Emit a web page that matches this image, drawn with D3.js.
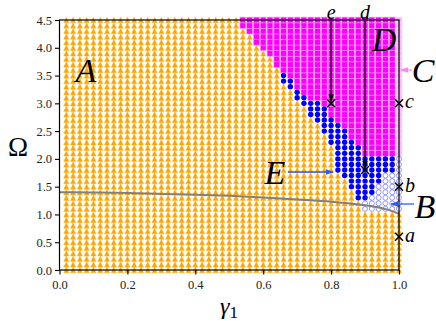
<!DOCTYPE html>
<html><head><meta charset="utf-8">
<script src="https://cdn.jsdelivr.net/npm/d3@7"></script>
<style>body{margin:0;background:#fff} svg{display:block}</style>
</head><body>
<svg id="c" width="436" height="321"></svg>
<script>
// ---- data ----
const gammaCols = [0.02,0.04,0.06,0.08,0.10,0.12,0.14,0.16,0.18,0.20,0.22,0.24,0.26,0.28,0.30,0.32,0.34,0.36,0.38,0.40,
  0.42,0.44,0.46,0.48,0.50,0.52,0.54,0.56,0.58,0.60,0.62,0.64,0.66,0.68,0.70,0.72,0.74,0.76,0.78,0.80,
  0.82,0.84,0.86,0.88,0.90,0.92,0.94,0.96,0.98,1.00];
const omegaRows = [0.0,0.1,0.2,0.3,0.4,0.5,0.6,0.7,0.8,0.9,1.0,1.1,1.2,1.3,1.4,1.5,1.6,1.7,1.8,1.9,
  2.0,2.1,2.2,2.3,2.4,2.5,2.6,2.7,2.8,2.9,3.0,3.1,3.2,3.3,3.4,3.5,3.6,3.7,3.8,3.9,4.0,4.1,4.2,4.3,4.4,4.5];
// highest Omega of region A (orange), B (open circles), E (blue dots) in each column; above: D (or C at gamma=1)
const orangeTop = [4.5,4.5,4.5,4.5,4.5,4.5,4.5,4.5,4.5,4.5,4.5,4.5,4.5,4.5,4.5,4.5,4.5,4.5,4.5,4.5,
  4.5,4.5,4.5,4.5,4.5,4.5,4.3,4.2,4.0,3.9,3.8,3.6,3.3,3.2,3.0,2.9,2.7,2.6,2.4,2.2,
  1.7,1.6,1.4,1.2,1.0,1.0,1.0,1.0,1.0,1.0];
const openTop = [4.5,4.5,4.5,4.5,4.5,4.5,4.5,4.5,4.5,4.5,4.5,4.5,4.5,4.5,4.5,4.5,4.5,4.5,4.5,4.5,
  4.5,4.5,4.5,4.5,4.5,4.5,4.3,4.2,4.0,3.9,3.8,3.6,3.3,3.2,3.0,2.9,2.7,2.6,2.4,2.2,
  1.7,1.6,1.4,1.2,1.2,1.3,1.5,1.7,1.7,2.0];
const blueTop = [4.5,4.5,4.5,4.5,4.5,4.5,4.5,4.5,4.5,4.5,4.5,4.5,4.5,4.5,4.5,4.5,4.5,4.5,4.5,4.5,
  4.5,4.5,4.5,4.5,4.5,4.5,4.3,4.2,4.0,3.9,3.8,3.6,3.5,3.4,3.2,3.1,3.0,3.0,2.9,2.7,
  2.6,2.5,2.3,2.2,2.0,2.0,2.0,2.0,2.0,2.0];
const regionCGamma = 1.0;
const lineGamma = [0,0.1,0.2,0.3,0.4,0.5,0.6,0.7,0.8,0.85,0.9,0.95,0.98,1.0];
const lineOmega = [1.40,1.395,1.385,1.37,1.355,1.335,1.305,1.27,1.23,1.20,1.165,1.11,1.06,1.01];
const xTicks = [0,0.2,0.4,0.6,0.8,1.0];
const yTicks = [0,0.5,1.0,1.5,2.0,2.5,3.0,3.5,4.0,4.5];
const crossGamma = [1.0,1.0,1.0,0.9,0.8];
const crossOmega = [0.6,1.5,3.0,1.8,3.0];
const crossNames = ["a","b","c","d","e"];

// ---- drawing ----
const svg = d3.select("#c");
const x = d3.scaleLinear().domain([0,1]).range([59.5,399]);
const y = d3.scaleLinear().domain([0,4.5]).range([270,20]);
const serif = "'Liberation Serif','DejaVu Serif',serif";

const defs = svg.append("defs");
function mk(id,color){
  defs.append("marker").attr("id",id).attr("viewBox","0 0 10 10").attr("refX",9).attr("refY",5)
    .attr("markerWidth",6).attr("markerHeight",6).attr("orient","auto-start-reverse")
    .append("path").attr("d","M0,1.5L10,5L0,8.5Z").attr("fill",color);
}
mk("ab","#000"); mk("abl","#2a5cff"); mk("apk","#ff80ff");

const pts = [];
gammaCols.forEach((g,i)=>{
  omegaRows.forEach(o=>{
    let r;
    if (o <= orangeTop[i]+1e-9) r="A";
    else if (o <= openTop[i]+1e-9) r="B";
    else if (o <= blueTop[i]+1e-9) r="E";
    else r = (Math.abs(g-regionCGamma)<1e-9) ? "C" : "D";
    pts.push({g,o,r});
  });
});

const gm = svg.append("g");
const s = 2.7;
gm.selectAll("path.tri").data(pts.filter(d=>d.r==="A")).join("path").attr("class","tri")
  .attr("d",`M0,${-s}L${s*0.95},${s}L${-s*0.95},${s}Z`)
  .attr("transform",d=>`translate(${x(d.g)},${y(d.o)})`)
  .attr("fill","#ffa500").attr("stroke","#ffb020").attr("stroke-width",0.5);
gm.selectAll("rect.sq").data(pts.filter(d=>d.r==="D"||d.r==="C")).join("rect").attr("class","sq")
  .attr("x",d=>x(d.g)-2.9).attr("y",d=>y(d.o)-2.9).attr("width",5.8).attr("height",5.8)
  .attr("fill",d=>d.r==="D"?"#ff00ff":"#ffb4ff")
  .attr("stroke",d=>d.r==="D"?"#ff9cff":"#ffd6ff").attr("stroke-width",0.6);
gm.selectAll("circle.e").data(pts.filter(d=>d.r==="E")).join("circle").attr("class","e")
  .attr("cx",d=>x(d.g)).attr("cy",d=>y(d.o)).attr("r",2.7).attr("fill","#0000ff");
gm.selectAll("circle.b").data(pts.filter(d=>d.r==="B")).join("circle").attr("class","b")
  .attr("cx",d=>x(d.g)).attr("cy",d=>y(d.o)).attr("r",2.5).attr("fill","none")
  .attr("stroke","#6a6aff").attr("stroke-width",0.7);

// grey line
const lineData = lineGamma.map((g,i)=>[g,lineOmega[i]]);
svg.append("path").datum(lineData)
  .attr("d",d3.line().x(d=>x(d[0])).y(d=>y(d[1])).curve(d3.curveMonotoneX))
  .attr("fill","none").attr("stroke","#808080").attr("stroke-width",2);

// frame
svg.append("rect").attr("x",x(0)).attr("y",y(4.5)).attr("width",x(1)-x(0)).attr("height",y(0)-y(4.5))
  .attr("fill","none").attr("stroke","#000").attr("stroke-width",1.2);

// axes
const xa = svg.append("g").attr("transform",`translate(0,${y(0)})`)
  .call(d3.axisBottom(x).tickValues(xTicks).tickFormat(d3.format(".1f")).tickSize(4.5).tickPadding(6));
const ya = svg.append("g").attr("transform",`translate(${x(0)},0)`)
  .call(d3.axisLeft(y).tickValues(yTicks).tickFormat(d3.format(".1f")).tickSize(4.5).tickPadding(3));
[xa,ya].forEach(a=>{
  a.select(".domain").remove();
  a.selectAll(".tick line").attr("stroke","#000").attr("stroke-width",1.1);
  a.selectAll("text").attr("font-family",serif).attr("font-size",12.5).attr("fill","#222");
});

// crosses
crossGamma.forEach((g,i)=>{
  const cx=x(g), cy=y(crossOmega[i]), k=4;
  svg.append("path").attr("d",`M${cx-k},${cy-k}L${cx+k},${cy+k}M${cx-k},${cy+k}L${cx+k},${cy-k}`)
    .attr("stroke","#000").attr("stroke-width",1.5);
});
// labels a,b,c on the right of their crosses
[0,1,2].forEach(i=>{
  svg.append("text").attr("x",x(crossGamma[i])+6).attr("y",y(crossOmega[i])+5)
    .attr("font-family",serif).attr("font-style","italic").attr("font-size",20).text(crossNames[i]);
});
// d and e labels at the top with arrows down to the crosses
[3,4].forEach(i=>{
  const cx=x(crossGamma[i]);
  svg.append("text").attr("x",cx).attr("y",19).attr("text-anchor","middle")
    .attr("font-family",serif).attr("font-style","italic").attr("font-size",20).text(crossNames[i]);
  svg.append("line").attr("x1",cx).attr("x2",cx).attr("y1",21).attr("y2",y(crossOmega[i])-2)
    .attr("stroke","#000").attr("stroke-width",1.3).attr("marker-end","url(#ab)");
});

// region letters
function big(t,px,py){
  svg.append("text").attr("x",px).attr("y",py).attr("text-anchor","middle")
    .attr("font-family",serif).attr("font-style","italic").attr("font-size",34).text(t);
}
big("A",86,82); big("D",384,51); big("E",275,184); big("C",423,82); big("B",425,218);
function arrow(x1,y1,x2,y2,m,c){
  svg.append("line").attr("x1",x1).attr("y1",y1).attr("x2",x2).attr("y2",y2)
    .attr("stroke",c).attr("stroke-width",1.3).attr("marker-end",`url(#${m})`);
}
arrow(288,172,333,172,"abl","#2a5cff");
arrow(414,204,391,204,"abl","#2a5cff");
arrow(412,70,401,70,"apk","#ff80ff");

// axis titles
svg.append("text").attr("x",18).attr("y",156).attr("text-anchor","middle")
  .attr("font-family",serif).attr("font-size",27).text("Ω");
const xt = svg.append("text").attr("x",229).attr("y",314).attr("text-anchor","middle")
  .attr("font-family",serif).attr("font-size",24);
xt.append("tspan").attr("font-style","italic").text("γ");
xt.append("tspan").attr("font-size",17).attr("dy",4).text("1");
</script>
</body></html>
